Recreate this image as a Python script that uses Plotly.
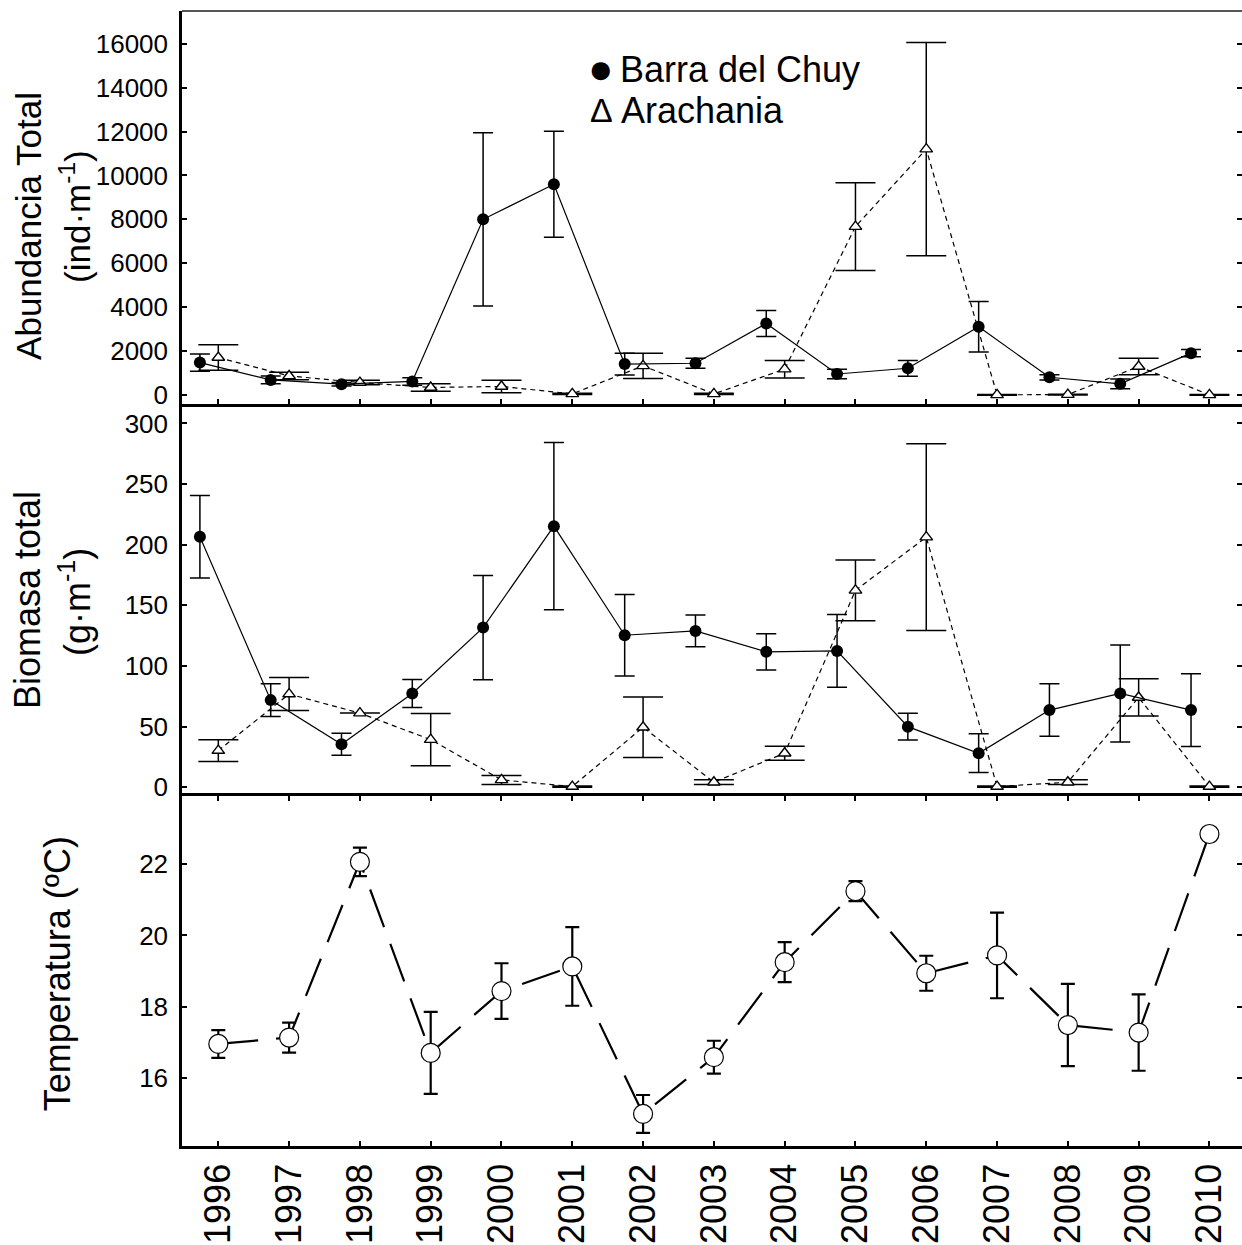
import plotly.graph_objects as go
from plotly.subplots import make_subplots

nan = float("nan")

years = [1996, 1997, 1998, 1999, 2000, 2001, 2002, 2003, 2004, 2005, 2006, 2007, 2008, 2009, 2010]
year_labels = [str(y) for y in years]

# Abundancia total (ind·m-1)
abund_chuy = [1470, 680, 485, 610, 8000, 9600, 1400, 1440, 3250, 950, 1210, 3100, 800, 500, 1900]
abund_chuy_err = [390, 180, 80, 170, 3950, 2420, 500, 225, 590, 220, 360, 1150, 120, 220, 165]
abund_arach = [1700, 860, 560, 335, 380, 45, 1320, 45, 1170, 7670, 11200, 0, 10, 1290, 0]
abund_arach_err = [580, 175, 100, 170, 290, 30, 580, 30, 400, 2000, 4860, 15, 15, 380, 15]
abund_ticks = [0, 2000, 4000, 6000, 8000, 10000, 12000, 14000, 16000]

# Biomasa total (g·m-1)
biom_chuy = [206.5, 71.8, 35.4, 77.3, 131.6, 215.3, 125.3, 128.9, 111.6, 112.4, 49.9, 28.0, 63.6, 77.3, 63.6]
biom_chuy_err = [34, 13.5, 9, 11.5, 43, 69, 33.7, 13, 15, 30, 11, 16, 21.7, 40, 30]
biom_arach = [30.2, 76.8, 61.1, 39.2, 6.0, 0.5, 49.4, 4.1, 28.0, 162.3, 206.2, 0.5, 4.1, 74.0, 0.5]
biom_arach_err = [9, 13.6, nan, 21.5, 3.7, 0.5, 25, 2, 5.7, 25, 77, 0.5, 2, 15.4, 0.5]
biom_ticks = [0, 50, 100, 150, 200, 250, 300]

# Temperatura (ºC)
temp = [16.96, 17.14, 22.06, 16.71, 18.44, 19.13, 15.00, 16.59, 19.25, 21.24, 18.94, 19.44, 17.49, 17.28, 22.84]
temp_err = [0.39, 0.42, 0.40, 1.15, 0.78, 1.10, 0.53, 0.46, 0.56, 0.28, 0.49, 1.20, 1.15, 1.07, nan]
temp_ticks = [16, 18, 20, 22]

W, H = 1242, 1245
FONT = "Liberation Sans, Arial, Helvetica, sans-serif"


def px(p):
    return p / W


def py(p):
    return 1 - p / H


chuy_offset = -0.26
x_chuy = [y + chuy_offset for y in years]

fig = make_subplots(rows=3, cols=1, shared_xaxes=True, vertical_spacing=0)


def err(arr, w, th=1.5):
    return dict(type="data", array=arr, visible=True, width=w, thickness=th, color="black")


# Panel 1
fig.add_trace(go.Scatter(x=years, y=abund_arach, mode="lines+markers",
                         line=dict(color="black", width=1.2, dash="5px,4px"),
                         marker=dict(symbol="triangle-up", size=11, color="white",
                                     line=dict(color="black", width=1.4)),
                         error_y=err(abund_arach_err, 20), showlegend=False), row=1, col=1)
fig.add_trace(go.Scatter(x=x_chuy, y=abund_chuy, mode="lines+markers",
                         line=dict(color="black", width=1.2),
                         marker=dict(symbol="circle", size=12, color="black"),
                         error_y=err(abund_chuy_err, 10), showlegend=False), row=1, col=1)

# Panel 2
fig.add_trace(go.Scatter(x=years, y=biom_arach, mode="lines+markers",
                         line=dict(color="black", width=1.2, dash="5px,4px"),
                         marker=dict(symbol="triangle-up", size=11, color="white",
                                     line=dict(color="black", width=1.4)),
                         error_y=err(biom_arach_err, 20), showlegend=False), row=2, col=1)
fig.add_trace(go.Scatter(x=x_chuy, y=biom_chuy, mode="lines+markers",
                         line=dict(color="black", width=1.2),
                         marker=dict(symbol="circle", size=12, color="black"),
                         error_y=err(biom_chuy_err, 10), showlegend=False), row=2, col=1)

# Panel 3
fig.add_trace(go.Scatter(x=years, y=temp, mode="lines+markers",
                         line=dict(color="black", width=2.2, dash="40px,18px"),
                         marker=dict(symbol="circle", size=19, color="white",
                                     line=dict(color="black", width=1.2)),
                         error_y=err(temp_err, 7, 2.2), showlegend=False), row=3, col=1)

xr = [1995.487, 2010.46]
xdom = [px(182), 1.0]
common_x = dict(range=xr, domain=xdom, showgrid=False, zeroline=False,
                linecolor="black", linewidth=3, tickvals=years, ticktext=year_labels)

fig.update_layout(
    xaxis=dict(common_x, showline=True, ticks="inside", ticklen=5, tickwidth=1.5,
               tickcolor="black", showticklabels=False),
    xaxis2=dict(common_x, showline=False, ticks="", showticklabels=False),
    xaxis3=dict(common_x, showline=True, ticks="inside", ticklen=5, tickwidth=1.5,
                tickcolor="black", mirror="ticks", showticklabels=True, tickangle=-90,
                tickfont=dict(family=FONT, size=36, color="black")),
)

common_y = dict(showgrid=False, zeroline=False, showline=True, linecolor="black",
                linewidth=2.5, ticks="inside", ticklen=5, tickwidth=1.5, tickcolor="black",
                tickfont=dict(family=FONT, size=26, color="black"), ticklabelstandoff=6)

fig.update_layout(
    yaxis=dict(common_y, domain=[py(406), py(11)], range=[-420, 17500],
               tickvals=abund_ticks, ticktext=[str(t) for t in abund_ticks]),
    yaxis2=dict(common_y, domain=[py(800), py(406)], range=[-7.4, 316],
                tickvals=biom_ticks, ticktext=[str(t) for t in biom_ticks]),
    yaxis3=dict(common_y, domain=[py(1152), py(800)], range=[14.09, 23.9],
                tickvals=temp_ticks, ticktext=[str(t) for t in temp_ticks]),
)

# right-side inner ticks (mirror ticks without a line)
right_axes = [("yaxis4", "y", "y4", [-420, 17500], abund_ticks),
              ("yaxis5", "y2", "y5", [-7.4, 316], biom_ticks),
              ("yaxis6", "y3", "y6", [14.09, 23.9], temp_ticks)]
xanchors = {"y": "x", "y2": "x2", "y3": "x3"}
for name, over, ref, rng, tv in right_axes:
    fig.update_layout({name: dict(overlaying=over, side="right", anchor=xanchors[over],
                                  range=rng, tickvals=tv, showticklabels=False,
                                  ticks="inside", ticklen=5, tickwidth=1.5, tickcolor="black",
                                  showline=False, showgrid=False, zeroline=False)})
    fig.add_trace(go.Scatter(x=[None], y=[None], xaxis=xanchors[over], yaxis=ref,
                             showlegend=False, hoverinfo="skip"))

annotations = []


def add_text(text, x, y, size, angle=0, xanchor="center"):
    annotations.append(dict(text=text, x=px(x), y=py(y), xref="paper", yref="paper",
                            showarrow=False, textangle=angle, xanchor=xanchor, yanchor="middle",
                            font=dict(family=FONT, size=size, color="black")))


add_text("Abundancia Total", 29, 227, 35, -90)
add_text("(ind·m<sup>-1</sup>)", 75, 218, 35, -90)
add_text("Biomasa total", 27, 603, 36, -90)
add_text("(g·m<sup>-1</sup>)", 75, 605, 36, -90)
add_text("Temperatura (ºC)", 57, 979, 36, -90)

# legend (glyph + label)
add_text("●", 600, 69, 42, 0, "center")
add_text("Barra del Chuy", 618, 70, 36, 0, "left")
add_text("Δ", 601, 111, 34, 0, "center")
add_text("Arachania", 619, 111, 36, 0, "left")

shapes = [dict(type="line", xref="paper", yref="paper", x0=px(182), x1=1.0,
               y0=py(11), y1=py(11), line=dict(color="#555555", width=2))]

fig.update_layout(width=W, height=H, margin=dict(l=0, r=0, t=0, b=0),
                  paper_bgcolor="white", plot_bgcolor="white",
                  annotations=annotations, shapes=shapes, showlegend=False,
                  font=dict(family=FONT, color="black"))

fig.write_html("out.html")
